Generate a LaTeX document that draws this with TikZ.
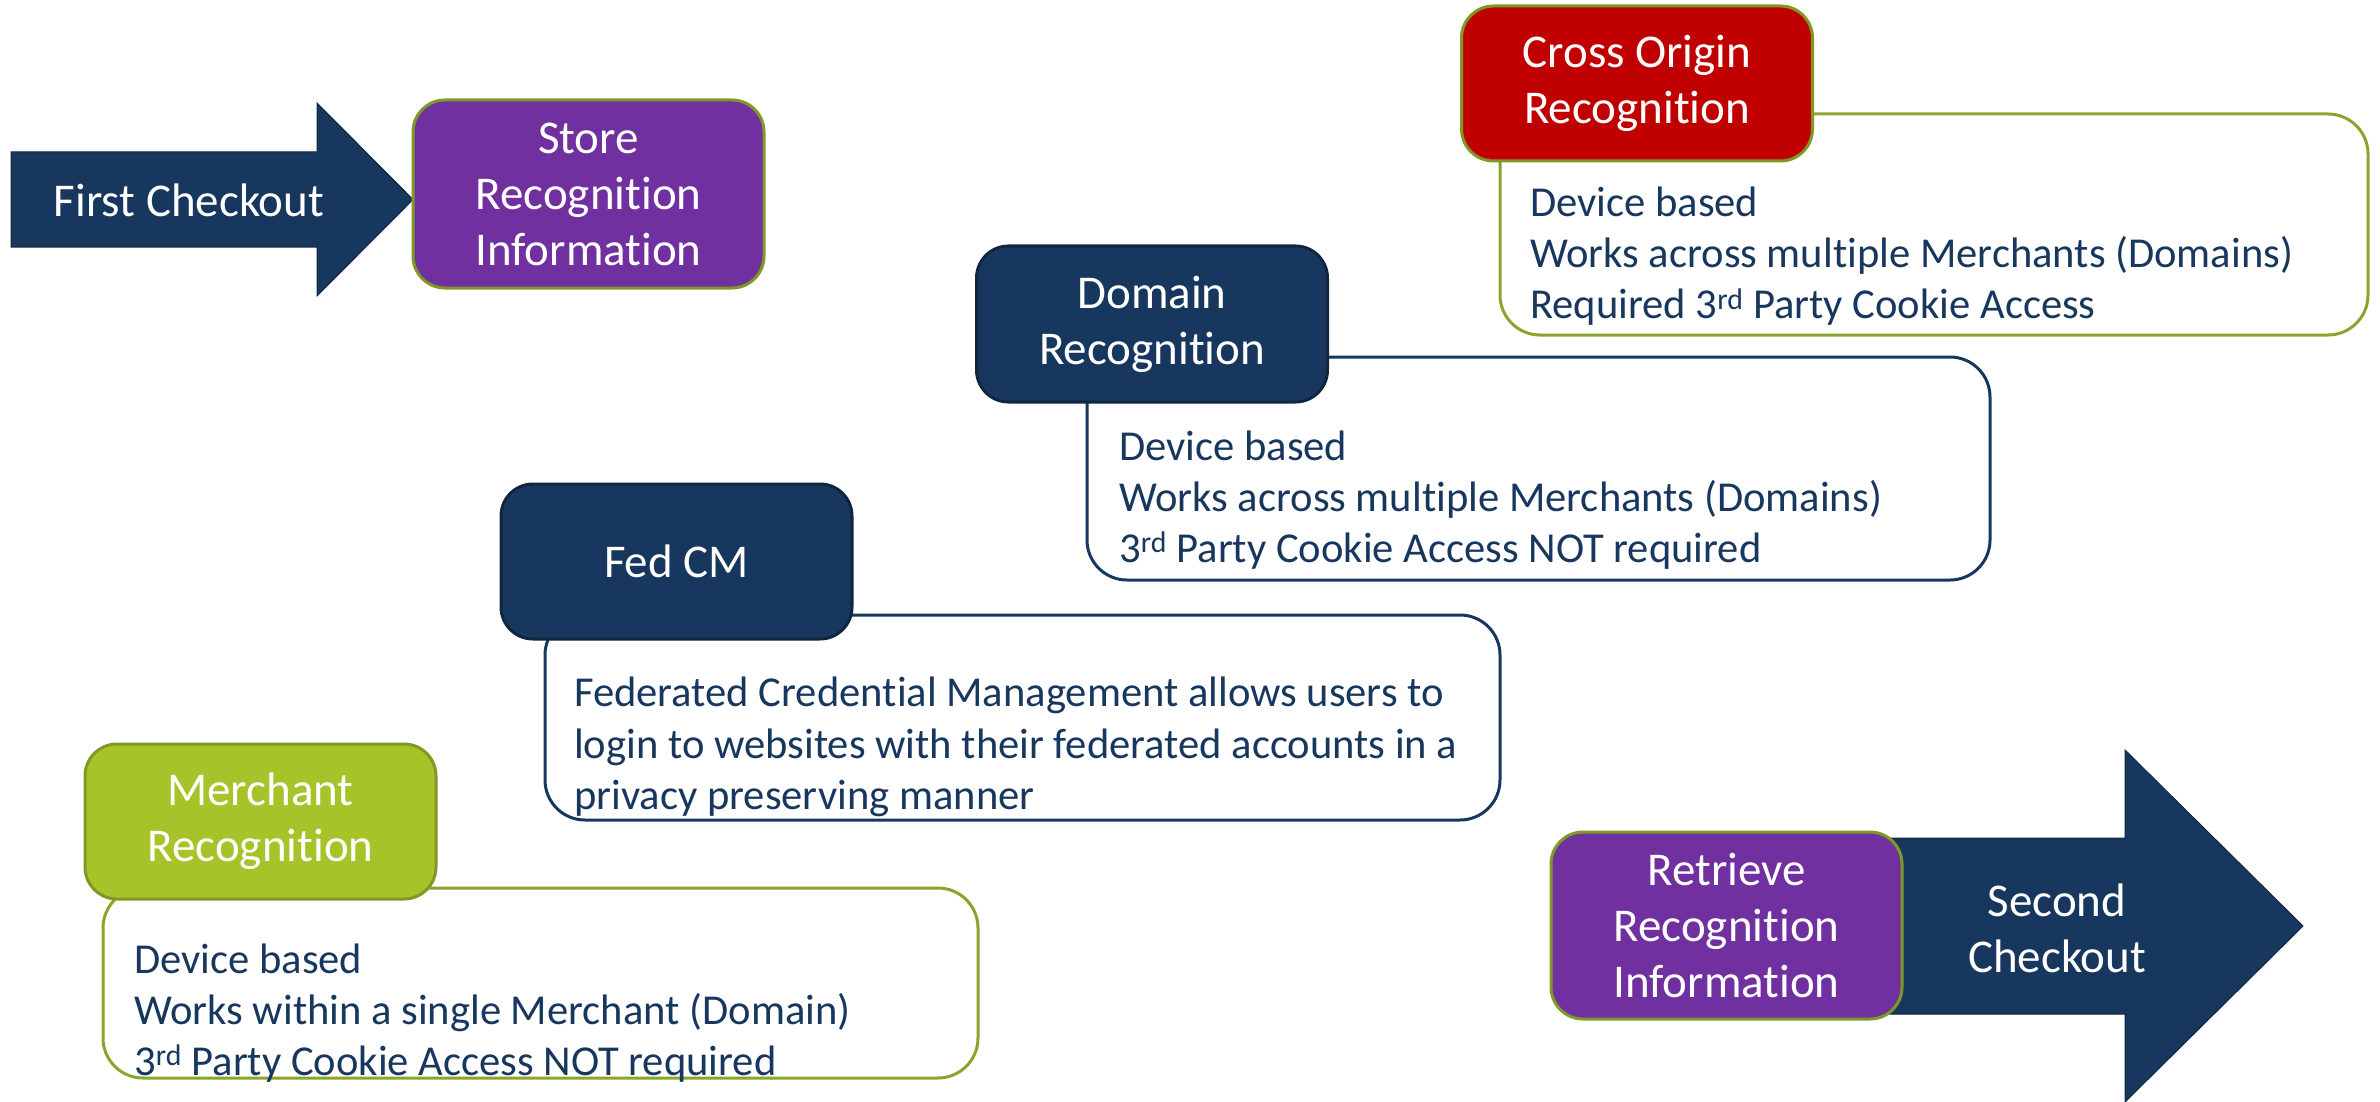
\documentclass[tikz,border=0pt]{standalone}
\usepackage{fontspec}
\setmainfont{Carlito}[Ligatures=NoCommon]
\definecolor{navy}{HTML}{17375E}
\definecolor{navyedge}{HTML}{10263F}
\definecolor{purp}{HTML}{7030A0}
\definecolor{redc}{HTML}{C00000}
\definecolor{lime}{HTML}{A6C42A}
\definecolor{greenedge}{HTML}{7E9A24}
\definecolor{descgreen}{HTML}{8AA42C}
\begin{document}
\begin{tikzpicture}[x=1pt,y=-1pt,
  titlebox/.style={rounded corners=32pt, line width=3pt, inner sep=0pt, align=center,
    text=white, font=\fontsize{47}{56}\selectfont, minimum width=351pt},
  descbox/.style={rounded corners=40pt, line width=3pt, fill=white, inner sep=0pt},
  line/.style={anchor=base west, inner sep=0pt, text=navy, font=\fontsize{42.6}{52}\selectfont},
  arrowtext/.style={text=white, align=center, inner sep=0pt, font=\fontsize{47}{56}\selectfont}]
\useasboundingbox (0,0) rectangle (2380,1102);

% First checkout arrow
\fill[navy, draw=navyedge, line width=1pt] (11,152) -- (317,152) -- (317,103) -- (413,199.5) -- (317,296) -- (317,247) -- (11,247) -- cycle;
\node[arrowtext] (first) at (189,200) {First Checkout};

% Store box
\node[titlebox, fill=purp, draw=greenedge, minimum height=188pt] (store) at (588.5,194) {Store\\Recognition\\Information};

% Cross origin
\node[descbox, draw=descgreen, minimum width=868pt, minimum height=221pt] (crossd) at (1934,224.5) {};
\node[line] (c1) at (1530,216.5) {Device based};
\node[line] (c2) at (1530,267.5) {Works across multiple Merchants (Domains)};
\node[line] (c3) at (1530,318.5) {Required 3\textsuperscript{rd} Party Cookie Access};
\node[titlebox, fill=redc, draw=greenedge, minimum height=155pt] (cross) at (1637,83.5) {Cross Origin\\Recognition};

% Domain
\node[descbox, draw=navy, minimum width=903pt, minimum height=223pt] (domd) at (1538.5,468.5) {};
\node[line] (d1) at (1119,460) {Device based};
\node[line] (d2) at (1119,511) {Works across multiple Merchants (Domains)};
\node[line] (d3) at (1119,562) {3\textsuperscript{rd} Party Cookie Access NOT required};
\node[titlebox, fill=navy, draw=navyedge, minimum height=156pt] (dom) at (1152,324) {Domain\\Recognition};

% Fed CM
\node[descbox, draw=navy, minimum width=955pt, minimum height=205pt] (fedd) at (1022.5,717.5) {};
\node[line] (f1) at (574,706) {Federated Credential Management allows users to};
\node[line] (f2) at (574,758) {login to websites with their federated accounts in a};
\node[line] (f3) at (574,809) {privacy preserving manner};
\node[titlebox, fill=navy, draw=navyedge, minimum height=155pt] (fed) at (676.5,561.5) {Fed CM};

% Merchant
\node[descbox, draw=descgreen, minimum width=875pt, minimum height=190pt] (merd) at (540.5,983) {};
\node[line] (m1) at (134,973) {Device based};
\node[line] (m2) at (134,1024) {Works within a single Merchant (Domain)};
\node[line] (m3) at (134,1075) {3\textsuperscript{rd} Party Cookie Access NOT required};
\node[titlebox, fill=lime, draw=greenedge, minimum height=155pt] (mer) at (260.5,821.5) {Merchant\\Recognition};

% Second checkout arrow
\fill[navy, draw=navyedge, line width=1pt] (1880,838) -- (2125,838) -- (2125,750) -- (2303,926) -- (2125,1102) -- (2125,1014) -- (1880,1014) -- cycle;
\node[arrowtext] (second) at (2057,928) {Second\\Checkout};

% Retrieve box
\node[titlebox, fill=purp, draw=greenedge, minimum height=187pt] (ret) at (1726.5,925.5) {Retrieve\\Recognition\\Information};
\end{tikzpicture}
\end{document}
